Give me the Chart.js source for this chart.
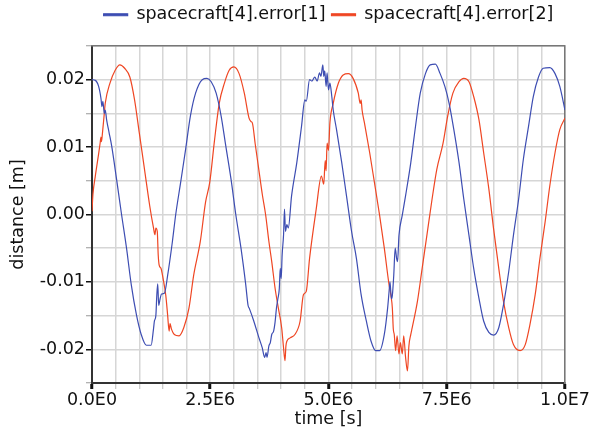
<!DOCTYPE html>
<html><head><meta charset="utf-8">
<script src="https://cdn.jsdelivr.net/npm/chart.js@4"></script>
<style>html,body{margin:0;padding:0;background:#fff}canvas{display:block}</style>
</head><body>
<canvas id="c" width="591" height="436"></canvas>
<script>
// ---- data (time in units of 1E6 s, distance in m) ----
const seriesNames = ['spacecraft[4].error[1]', 'spacecraft[4].error[2]'];
const seriesColors = ['#3d4db2', '#ef4623'];

const time1 = [0,0.07,0.14,0.19,0.21,0.23,0.26,0.28,0.31,0.36,0.42,0.52,0.625,0.73,0.83,0.94,1.04,1.15,1.25,1.30,1.32,1.35,1.37,1.39,1.41,1.44,1.47,1.53,1.60,1.70,1.77,1.875,1.98,2.08,2.19,2.33,2.43,2.52,2.625,2.73,2.83,2.94,3.04,3.15,3.25,3.30,3.33,3.42,3.53,3.60,3.65,3.68,3.70,3.74,3.77,3.80,3.84,3.87,3.90,3.93,3.96,3.98,4.00,4.02,4.05,4.07,4.09,4.12,4.15,4.22,4.33,4.43,4.50,4.53,4.60,4.65,4.71,4.76,4.81,4.84,4.88,4.90,4.92,4.95,4.97,5.00,5.03,5.07,5.10,5.17,5.28,5.38,5.49,5.59,5.69,5.80,5.90,6.00,6.08,6.18,6.25,6.28,6.30,6.33,6.35,6.38,6.41,6.44,6.46,6.49,6.56,6.63,6.74,6.84,6.94,7.05,7.15,7.26,7.36,7.46,7.55,7.65,7.76,7.86,7.97,8.07,8.18,8.28,8.39,8.49,8.60,8.70,8.81,8.91,9.02,9.12,9.23,9.33,9.44,9.54,9.68,9.79,9.89,10.0];
const error1 = [0.0200,0.0199,0.0190,0.0172,0.0160,0.0168,0.0150,0.0155,0.0140,0.0122,0.0100,0.0052,0.0000,-0.0050,-0.0104,-0.0149,-0.0178,-0.0194,-0.0194,-0.0170,-0.0158,-0.0150,-0.0120,-0.0103,-0.0135,-0.0125,-0.0118,-0.0117,-0.0090,-0.0040,0.0000,0.0048,0.0097,0.0146,0.0180,0.0200,0.0202,0.0197,0.0180,0.0146,0.0101,0.0052,0.0000,-0.0050,-0.0104,-0.0135,-0.0140,-0.0158,-0.0183,-0.0198,-0.0212,-0.0205,-0.0212,-0.0195,-0.0190,-0.0178,-0.0173,-0.0160,-0.0139,-0.0125,-0.0110,-0.0080,-0.0095,-0.0060,-0.0030,0.0008,-0.0025,-0.0015,-0.0020,0.0028,0.0077,0.0131,0.0170,0.0168,0.0200,0.0198,0.0204,0.0198,0.0210,0.0205,0.0222,0.0205,0.0213,0.0190,0.0210,0.0185,0.0195,0.0175,0.0155,0.0126,0.0077,0.0028,-0.0026,-0.0065,-0.0119,-0.0158,-0.0188,-0.0202,-0.0202,-0.0178,-0.0139,-0.0115,-0.0100,-0.0125,-0.0120,-0.0090,-0.0050,-0.0065,-0.0070,-0.0031,-0.0001,0.0028,0.0077,0.0131,0.0180,0.0209,0.0222,0.0223,0.0209,0.0190,0.0165,0.0126,0.0077,0.0023,-0.0031,-0.0080,-0.0124,-0.0158,-0.0175,-0.0179,-0.0168,-0.0134,-0.0085,-0.0031,0.0023,0.0082,0.0131,0.0175,0.0204,0.0217,0.0218,0.0209,0.0190,0.0155];

const time2 = [0,0.02,0.07,0.14,0.17,0.19,0.20,0.22,0.26,0.28,0.38,0.49,0.59,0.69,0.80,0.90,1.00,1.11,1.22,1.30,1.33,1.35,1.38,1.40,1.42,1.46,1.49,1.56,1.60,1.63,1.65,1.68,1.74,1.84,1.94,2.05,2.15,2.29,2.40,2.49,2.59,2.69,2.80,2.90,3.00,3.11,3.22,3.32,3.36,3.39,3.45,3.52,3.60,3.67,3.74,3.80,3.87,3.94,4.01,4.05,4.08,4.10,4.12,4.19,4.29,4.40,4.47,4.53,4.60,4.74,4.85,4.90,4.93,4.95,4.97,5.00,5.03,5.10,5.21,5.31,5.42,5.52,5.63,5.67,5.69,5.71,5.76,5.87,5.97,6.08,6.18,6.28,6.32,6.35,6.37,6.39,6.42,6.45,6.49,6.52,6.56,6.59,6.63,6.67,6.70,6.74,6.77,6.88,6.98,7.08,7.19,7.29,7.42,7.52,7.63,7.76,7.86,7.97,8.07,8.18,8.28,8.39,8.49,8.60,8.70,8.81,8.91,9.05,9.16,9.26,9.37,9.47,9.58,9.68,9.79,9.89,10.0];
const error2 = [0.0005,0.0030,0.0057,0.0090,0.0105,0.0115,0.0108,0.0120,0.0150,0.0165,0.0195,0.0214,0.0222,0.0217,0.0204,0.0170,0.0121,0.0067,0.0013,-0.0020,-0.0030,-0.0020,-0.0025,-0.0060,-0.0075,-0.0080,-0.0090,-0.0120,-0.0150,-0.0173,-0.0162,-0.0170,-0.0178,-0.0180,-0.0168,-0.0139,-0.0090,-0.0040,0.0018,0.0048,0.0110,0.0165,0.0195,0.0214,0.0219,0.0209,0.0180,0.0143,0.0138,0.0136,0.0105,0.0070,0.0030,0.0000,-0.0040,-0.0070,-0.0109,-0.0139,-0.0168,-0.0198,-0.0217,-0.0195,-0.0188,-0.0183,-0.0178,-0.0158,-0.0119,-0.0114,-0.0065,0.0008,0.0057,0.0045,0.0080,0.0065,0.0106,0.0095,0.0136,0.0165,0.0195,0.0207,0.0209,0.0202,0.0180,0.0165,0.0170,0.0155,0.0136,0.0092,0.0048,-0.0001,-0.0050,-0.0104,-0.0120,-0.0139,-0.0170,-0.0178,-0.0202,-0.0180,-0.0207,-0.0190,-0.0207,-0.0180,-0.0212,-0.0232,-0.0195,-0.0178,-0.0168,-0.0129,-0.0080,-0.0031,0.0023,0.0067,0.0105,0.0146,0.0180,0.0197,0.0202,0.0197,0.0175,0.0141,0.0092,0.0038,-0.0021,-0.0080,-0.0129,-0.0168,-0.0193,-0.0202,-0.0193,-0.0163,-0.0119,-0.0065,-0.0011,0.0043,0.0092,0.0126,0.0143];

const xTickValues = [0, 2.5e6, 5e6, 7.5e6, 1e7];
const xTickLabels = ['0.0E0', '2.5E6', '5.0E6', '7.5E6', '1.0E7'];
const yTickValues = [-0.02, -0.01, 0, 0.01, 0.02];
const yTickLabels = ['-0.02', '-0.01', '0.00', '0.01', '0.02'];
const xTitle = 'time [s]';
const yTitle = 'distance [m]';

// ---- helpers ----
function lookup(vals, labels, v, tol) {
  const i = vals.findIndex(a => Math.abs(a - v) < tol);
  return i >= 0 ? labels[i] : '';
}
const xLab = v => lookup(xTickValues, xTickLabels, v, 1);
const yLab = v => lookup(yTickValues, yTickLabels, v, 1e-7);
const pts = (t, v) => t.map((ti, i) => ({x: ti * 1e6, y: v[i]}));

const FONT = "'DejaVu Sans', sans-serif";
Chart.defaults.font.family = FONT;
Chart.defaults.font.size = 17.5;
Chart.defaults.color = '#111';

new Chart(document.getElementById('c'), {
  type: 'line',
  data: {
    datasets: [
      {label: seriesNames[0], data: pts(time1, error1), borderColor: seriesColors[0], backgroundColor: seriesColors[0],
       borderWidth: 1.2, pointRadius: 0, cubicInterpolationMode: 'monotone'},
      {label: seriesNames[1], data: pts(time2, error2), borderColor: seriesColors[1], backgroundColor: seriesColors[1],
       borderWidth: 1.2, pointRadius: 0, cubicInterpolationMode: 'monotone'}
    ]
  },
  options: {
    responsive: false,
    devicePixelRatio: 1,
    animation: false,
    layout: {padding: 0},
    plugins: {
      tooltip: {enabled: false},
      legend: {
        position: 'top',
        fullSize: false,
        align: 'center',
        labels: {boxWidth: 24, boxHeight: 2, padding: 6, color: '#111', font: {size: 17.5}}
      }
    },
    scales: {
      x: {
        type: 'linear', position: 'bottom', min: 0, max: 1e7,
        afterFit: s => { s.height = 53; },
        ticks: {stepSize: 5e5, autoSkip: false, maxRotation: 0, padding: 1, callback: v => xLab(v)},
        grid: {
          color: '#d6d6d6', lineWidth: 1.5, tickLength: 6,
          tickColor: c => xLab(c.tick.value) ? '#111' : '#bbb',
          tickWidth: c => xLab(c.tick.value) ? 3 : 1
        },
        border: {color: '#333', width: 2},
        title: {display: true, text: xTitle, padding: {top: 0, bottom: 6.5}}
      },
      y: {
        type: 'linear', position: 'left', min: -0.025, max: 0.025,
        afterFit: s => { s.width = 92; },
        ticks: {stepSize: 0.005, autoSkip: false, padding: 1, callback: v => yLab(v)},
        grid: {
          color: '#d6d6d6', lineWidth: 1.5, tickLength: 6,
          tickColor: c => yLab(c.tick.value) ? '#111' : '#999',
          tickWidth: c => yLab(c.tick.value) ? 1.5 : 1
        },
        border: {color: '#333', width: 2},
        title: {display: true, text: yTitle, padding: {top: 7.5, bottom: 0}}
      },
      xTop: {
        type: 'linear', position: 'top', min: 0, max: 1e7,
        afterFit: s => { s.height = 12.5; },
        ticks: {display: false},
        grid: {drawOnChartArea: false, drawTicks: false},
        border: {color: '#777', width: 1.5}
      },
      yRight: {
        type: 'linear', position: 'right', min: -0.025, max: 0.025,
        afterFit: s => { s.width = 25; },
        ticks: {display: false},
        grid: {drawOnChartArea: false, drawTicks: false},
        border: {color: '#777', width: 1.5}
      }
    }
  }
});
</script>
</body></html>
